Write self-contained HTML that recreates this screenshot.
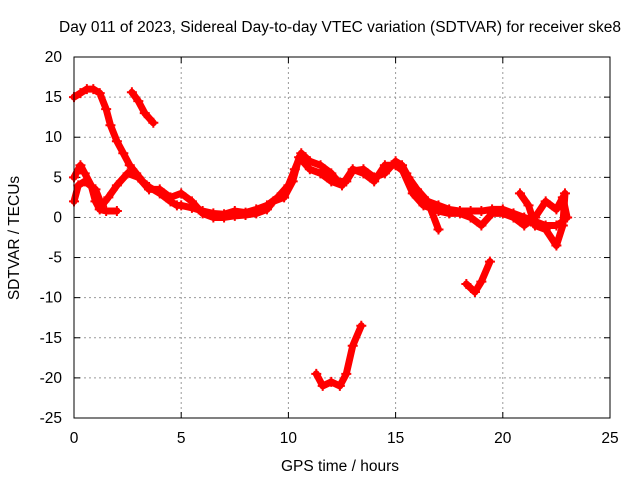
<!DOCTYPE html>
<html><head><meta charset="utf-8"><style>
body{margin:0;background:#fff}
svg{display:block;font-family:"Liberation Sans",sans-serif;font-size:15.5px}
</style></head><body>
<svg id="chart" width="640" height="480" xmlns="http://www.w3.org/2000/svg">
<text x="340" y="32" text-anchor="middle">Day 011 of 2023, Sidereal Day-to-day VTEC variation (SDTVAR) for receiver ske8</text>
<text x="340" y="471" text-anchor="middle">GPS time / hours</text>
<text transform="translate(19,238) rotate(-90)" text-anchor="middle">SDTVAR / TECUs</text>
<g id="grid"></g><g id="ticks"></g><g id="marks"></g>
<rect x="74" y="57" width="536" height="361" fill="none" stroke="#000" stroke-width="1"/>
</svg>
<script>
const xTicks=[0,5,10,15,20,25];
const yTicks=[20,15,10,5,0,-5,-10,-15,-20,-25];
const trackA=[[0,15],[0.3,15.5],[0.6,16],[0.9,16],[1.2,15.5],[1.5,13.5],[1.7,11.5],[2,9.5],[2.3,8],[2.6,6.5],[2.9,5.5],[3.2,4.5],[3.5,3.8],[4,3],[4.5,2],[4.8,1.5],[5,1.5],[5.5,1.2],[6,0.8],[6.5,0.5],[7,0.4],[7.5,0.8],[8,0.6],[8.5,1],[9,1.5],[9.5,2.5],[10,4],[10.3,6],[10.6,8],[10.8,7.5],[11,7],[11.5,6.5],[12,5.5],[12.3,4.5],[12.7,4.5],[13,5.8],[13.5,6],[14,5],[14.5,5.5],[15,7],[15.3,6.5],[15.6,5],[16,3.5],[16.5,2],[17,1.5],[17.5,1],[18,0.8],[18.5,0.8],[19,0.8],[19.5,1],[20,1],[20.5,0.5],[21,0],[21.5,-0.5],[22,-1],[22.5,-1],[22.8,-0.5]];
const trackB=[[2.7,15.6],[3,14.5],[3.3,13],[3.7,11.8]];
const trackC=[[0,5],[0.3,6.5],[0.5,5.5],[0.8,4],[1,2],[1.2,1],[1.5,0.8],[2,0.8]];
const trackD=[[0,2],[0.2,4],[0.5,4.5],[1,3.5],[1.3,1.5],[1.6,2.5],[2,4],[2.5,5.5],[3,5],[3.5,3.5],[4,3.5],[4.5,2.5],[5,3],[5.5,2],[6,0.5],[6.5,0],[7,0],[7.5,0.2],[8,0.3],[8.5,0.5],[9,1],[9.3,2],[9.8,2.5],[10.2,4.5],[10.5,7.5],[11,6],[11.5,5.5],[12,4.5],[12.5,4],[13,6],[13.5,5.5],[14,4.5],[14.5,6.5],[15,6.5],[15.5,5.5],[16,2.5],[16.5,2],[17,-1.5]];
const trackE=[[15.3,6],[15.8,3],[16.3,1.5],[17,0.8],[17.5,0.5],[18,0.5],[18.5,0],[19,-1],[19.5,0.5],[20,0.5],[20.5,0],[21,-1],[21.5,0],[22,2],[22.5,1],[22.8,2.5],[23,0]];
const trackF=[[20.8,3],[21.2,1.5],[21.5,-1],[22,-1.5],[22.5,-3.5],[22.8,-1],[22.9,3]];
const trackG=[[18.3,-8.3],[18.7,-9.3],[19,-8],[19.4,-5.5]];
const trackH=[[11.3,-19.5],[11.6,-21],[12,-20.5],[12.4,-21],[12.7,-19.5],[13,-16],[13.4,-13.5]];
const tracks=[trackA,trackB,trackC,trackD,trackE,trackF,trackG,trackH];
const NS="http://www.w3.org/2000/svg";
const X=v=>74+v*536/25, Y=v=>57+(20-v)*361/45;
function mk(t,a,p){const e=document.createElementNS(NS,t);for(const k in a)e.setAttribute(k,a[k]);p.appendChild(e);return e;}
const grid=document.getElementById('grid'),ticks=document.getElementById('ticks'),marks=document.getElementById('marks');
xTicks.forEach(v=>{const x=X(v);
 if(v>0&&v<25){const g=mk('line',{x1:x,x2:x,y1:57,y2:418,stroke:'#999','stroke-dasharray':'2,3'},grid);
 
 }
 mk('line',{x1:x,x2:x,y1:418,y2:412,stroke:'#000'},ticks);mk('line',{x1:x,x2:x,y1:57,y2:63,stroke:'#000'},ticks);
 const t=mk('text',{x:x,y:443,'text-anchor':'middle'},ticks);t.textContent=v;
 
 });
yTicks.forEach(v=>{const y=Y(v);
 if(v<20&&v>-25){const g=mk('line',{x1:74,x2:610,y1:y,y2:y,stroke:'#999','stroke-dasharray':'2,3'},grid);
 
 }
 mk('line',{x1:74,x2:80,y1:y,y2:y,stroke:'#000'},ticks);mk('line',{x1:604,x2:610,y1:y,y2:y,stroke:'#000'},ticks);
 const t=mk('text',{x:62,y:y+5,'text-anchor':'end'},ticks);t.textContent=v;
 
 });
tracks.forEach((tr,i)=>{
 const pl=mk('polyline',{points:tr.map(p=>X(p[0])+','+Y(p[1])).join(' '),fill:'none',stroke:'#f00','stroke-width':7,'stroke-linejoin':'round','stroke-linecap':'round'},marks);
 
 
 tr.forEach(p=>{const x=X(p[0]),y=Y(p[1]);
  const c=mk('path',{d:`M${x-5},${y}h10M${x},${y-5}v10`,stroke:'#f00','stroke-width':2},marks);
  
  });
});
</script>
</body></html>
